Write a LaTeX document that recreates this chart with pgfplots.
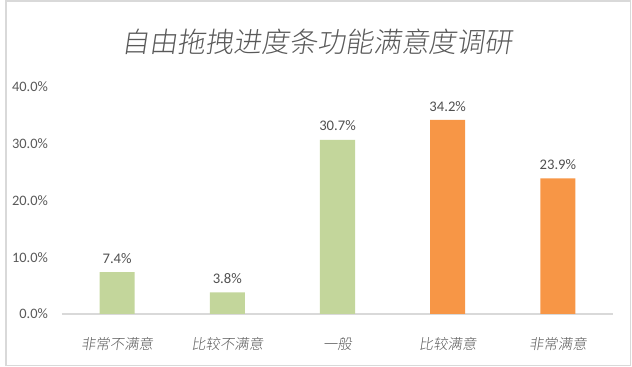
\documentclass[border=0pt]{standalone}
\usepackage{pgfplots}
\pgfplotsset{compat=1.18}
\usepackage{fontspec}
\setmainfont{Carlito}
\newfontfamily\cjk[FakeSlant=0.15, UprightFont={* Light}]{Noto Sans CJK SC}
\definecolor{txt}{HTML}{595959}
\definecolor{grn}{HTML}{C3D69B}
\definecolor{org}{HTML}{F79646}
\definecolor{frm}{HTML}{D9D9D9}
\begin{document}
\begin{tikzpicture}[x=0.75pt,y=0.75pt]
\useasboundingbox (0,0) rectangle (632,367);
\draw[frm, line width=0.9pt] (6,1.5) rectangle (630.5,366);
\node[text=txt, font=\cjk\fontsize{21}{24}\selectfont] at (317,325) {自由拖拽进度条功能满意度调研};
\begin{axis}[
  at={(46.5pt,39.75pt)}, anchor=south west,
  scale only axis, width=413.25pt, height=170.25pt,
  xmin=-0.5, xmax=4.5, ymin=0, ymax=40,
  axis x line*=bottom, axis y line*=left,
  x axis line style={frm, line width=0.9pt, -},
  y axis line style={draw=none},
  xtick style={draw=none}, ytick style={draw=none},
  xtick={0,1,2,3,4},
  xticklabels={非常不满意,比较不满意,一般,比较满意,非常满意},
  xticklabel style={font=\cjk\fontsize{10.8}{12}\selectfont, text=txt, yshift=-10pt},
  ytick={0,10,20,30,40},
  yticklabel={\pgfmathprintnumber[fixed,fixed zerofill,precision=1]{\tick}\%},
  yticklabel style={font=\fontsize{10.8}{12}\selectfont, text=txt, xshift=-7pt},
  /pgf/number format/assume math mode=true,
  ybar, bar width=26.25pt, bar shift=0pt,
  nodes near coords={\pgfmathprintnumber[fixed,fixed zerofill,precision=1]{\pgfplotspointmeta}\%},
  nodes near coords style={font=\fontsize{11}{12}\selectfont, text=txt!90!black, yshift=3pt},
  clip=false,
]
\addplot[fill=grn, draw=none] coordinates {(0,7.4) (1,3.8) (2,30.7)};
\addplot[fill=org, draw=none] coordinates {(3,34.2) (4,23.9)};
\end{axis}
\end{tikzpicture}
\end{document}
